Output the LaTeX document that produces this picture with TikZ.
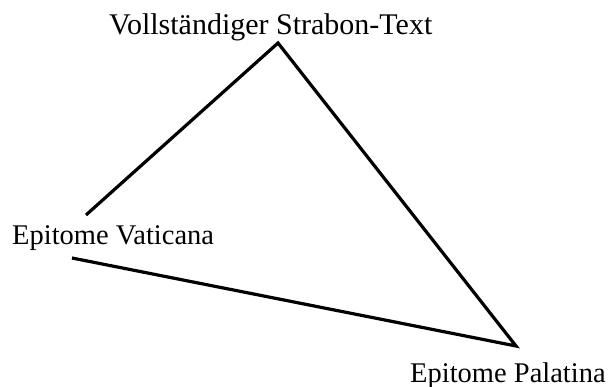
\documentclass[tikz,border=0pt]{standalone}
\usepackage{fontspec}
\setmainfont{Liberation Serif}
\begin{document}
\begin{tikzpicture}[x=1pt,y=-1pt,
  lbl/.style={anchor=base west,inner sep=0pt,font=\fontsize{28.5}{34}\selectfont},
  edge/.style={line width=3.2pt,line cap=butt}]
\useasboundingbox (0,0) rectangle (610,387);
\node[lbl,font=\fontsize{30}{35}\selectfont] (top) at (109,35) {Vollständiger Strabon-Text};
\node[lbl] (vat) at (12,245) {Epitome Vaticana};
\node[lbl] (pal) at (410,382) {Epitome Palatina};
\coordinate (apex) at (278,43);
\coordinate (vatup) at (86,215);
\coordinate (vatdown) at (72,258);
\coordinate (palend) at (516,346);
\draw[edge] (vatup) -- (apex) -- (palend) -- (vatdown);
\end{tikzpicture}
\end{document}
